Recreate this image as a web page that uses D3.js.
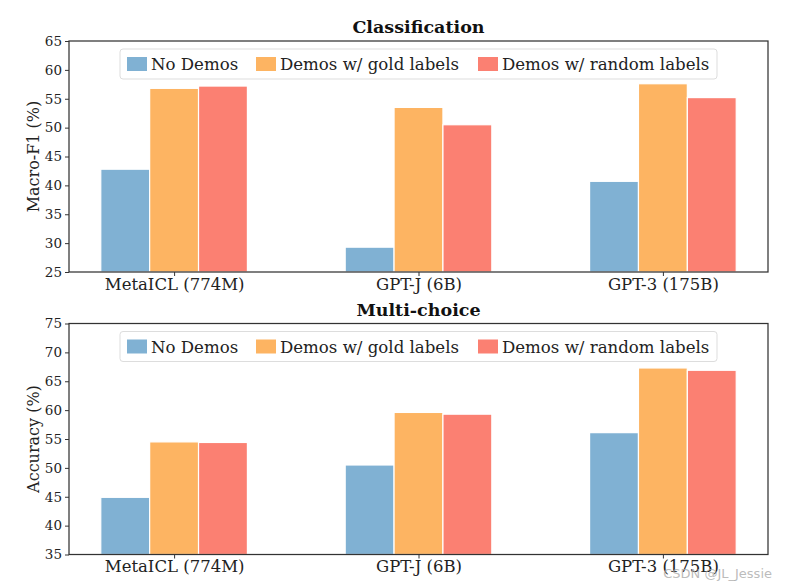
<!DOCTYPE html>
<html><head><meta charset="utf-8">
<script src="https://cdn.jsdelivr.net/npm/d3@7"></script>
<style>body{margin:0;background:#fff}svg{display:block}</style>
</head><body>
<svg id="c" width="788" height="587"></svg>
<script>
const models = ["MetaICL (774M)", "GPT-J (6B)", "GPT-3 (175B)"];
const seriesNames = ["No Demos", "Demos w/ gold labels", "Demos w/ random labels"];
const colors = ["#80b1d3", "#fdb462", "#fb8072"];

const clsNoDemos = [42.8, 29.3, 40.7];
const clsGold = [56.8, 53.5, 57.6];
const clsRandom = [57.2, 50.5, 55.2];
const clsTicks = [25, 30, 35, 40, 45, 50, 55, 60, 65];

const mcNoDemos = [44.9, 50.5, 56.1];
const mcGold = [54.5, 59.6, 67.3];
const mcRandom = [54.4, 59.3, 66.9];
const mcTicks = [35, 40, 45, 50, 55, 60, 65, 70, 75];

const panels = [
  {title: "Classification", ylabel: "Macro-F1 (%)", series: [clsNoDemos, clsGold, clsRandom], ticks: clsTicks, top: 41, bottom: 272},
  {title: "Multi-choice", ylabel: "Accuracy (%)", series: [mcNoDemos, mcGold, mcRandom], ticks: mcTicks, top: 323.5, bottom: 554.5}
];

const svg = d3.select("#c");
const left = 69, right = 768;
const font = "DejaVu Serif, serif";
const barW = 0.2;

panels.forEach(p => {
  const x = d3.scaleLinear().domain([-0.43, 2.43]).range([left, right]);
  const y = d3.scaleLinear().domain([p.ticks[0], p.ticks[p.ticks.length - 1]]).range([p.bottom, p.top]);
  const g = svg.append("g");

  p.series.forEach((vals, si) => {
    g.selectAll(null).data(vals).enter().append("rect")
      .attr("x", (d, i) => x(i + (si - 1) * barW - barW / 2))
      .attr("width", x(barW) - x(0))
      .attr("y", d => y(d))
      .attr("height", d => y(p.ticks[0]) - y(d))
      .attr("fill", colors[si])
      .attr("stroke", "#fff").attr("stroke-width", 1.2);
  });

  g.append("rect").attr("x", left).attr("y", p.top).attr("width", right - left).attr("height", p.bottom - p.top)
    .attr("fill", "none").attr("stroke", "#333").attr("stroke-width", 1.25);

  const ya = g.append("g").attr("transform", `translate(${left},0)`)
    .call(d3.axisLeft(y).tickValues(p.ticks).tickSize(4).tickPadding(3));
  ya.select(".domain").remove();
  ya.selectAll("line").attr("stroke", "#333").attr("stroke-width", 1);
  ya.selectAll("text").attr("font-family", font).attr("font-size", 13.5).attr("fill", "#222");

  const xa = g.append("g").attr("transform", `translate(0,${p.bottom})`)
    .call(d3.axisBottom(x).tickValues([0, 1, 2]).tickFormat(i => models[i]).tickSize(4).tickPadding(2));
  xa.select(".domain").remove();
  xa.selectAll("line").attr("stroke", "#333");
  xa.selectAll("text").attr("font-family", font).attr("font-size", 16.5).attr("fill", "#222");

  g.append("text").attr("x", (left + right) / 2).attr("y", p.top - 8)
    .attr("text-anchor", "middle").attr("font-family", font).attr("font-weight", "bold")
    .attr("font-size", 17.5).attr("fill", "#111").text(p.title);

  g.append("text").attr("transform", `translate(${left - 30},${(p.top + p.bottom) / 2}) rotate(-90)`)
    .attr("text-anchor", "middle").attr("font-family", font).attr("font-size", 16)
    .attr("fill", "#222").text(p.ylabel);

  const lg = g.append("g").attr("transform", `translate(120,${p.top + 8})`);
  lg.append("rect").attr("width", 597).attr("height", 30).attr("rx", 3)
    .attr("fill", "#fff").attr("fill-opacity", 0.8).attr("stroke", "#ddd");
  const offs = [7, 136, 358];
  seriesNames.forEach((n, i) => {
    lg.append("rect").attr("x", offs[i]).attr("y", 8).attr("width", 20).attr("height", 14).attr("fill", colors[i]);
    lg.append("text").attr("x", offs[i] + 24).attr("y", 21).attr("font-family", font)
      .attr("font-size", 16.6).attr("fill", "#222").text(n);
  });
});

svg.append("text").attr("x", 772).attr("y", 578).attr("text-anchor", "end")
  .attr("font-family", "DejaVu Sans, sans-serif").attr("font-size", 13).attr("fill", "#aaa")
  .attr("fill-opacity", 0.8).text("CSDN @JL_Jessie");
</script>
</body></html>
